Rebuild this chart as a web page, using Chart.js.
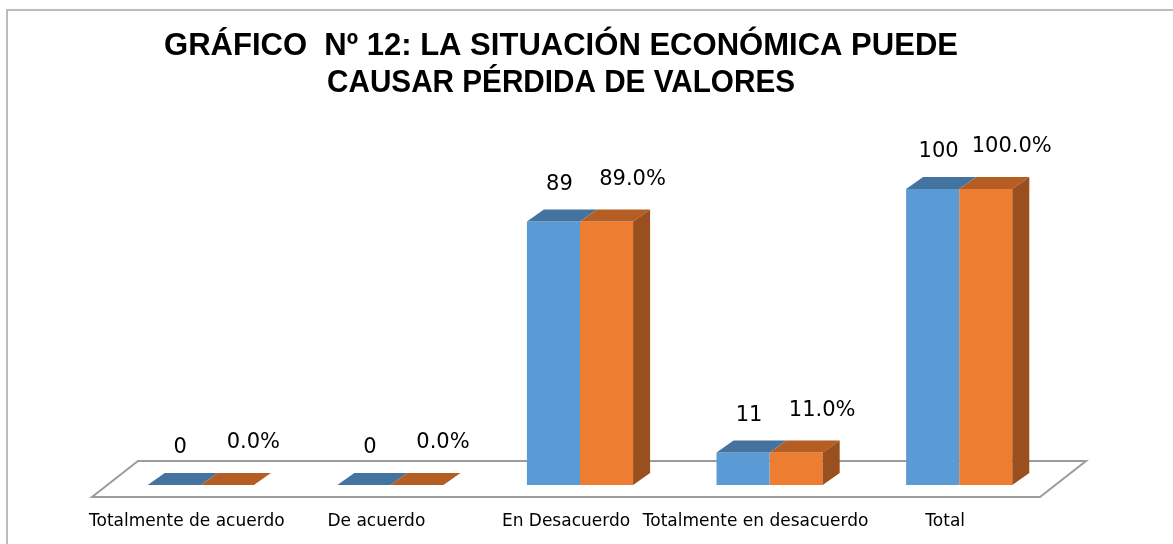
<!DOCTYPE html>
<html>
<head>
<meta charset="utf-8">
<script src="https://cdn.jsdelivr.net/npm/chart.js@4.4.0/dist/chart.umd.min.js"></script>
<style>
  html, body { margin: 0; padding: 0; background: #fff; }
  #wrap { width: 1173px; height: 544px; }
</style>
</head>
<body>
<div id="wrap"><canvas id="barChart" width="1173" height="544"></canvas></div>
<script>
// data
var categories = ["Totalmente de acuerdo", "De acuerdo", "En Desacuerdo", "Totalmente en desacuerdo", "Total"];
var frecuencia = [0, 0, 89, 11, 100];
var porcentaje = [0, 0, 89, 11, 100];
var titleLines = ["GRÁFICO  Nº 12: LA SITUACIÓN ECONÓMICA PUEDE", "CAUSAR PÉRDIDA DE VALORES"];

// 3D look
var depthX = 17, depthY = 12;
var topColors = ["#44739f", "#b55e24"];
var sideColor = "#9a4f1e";

// frame + title
var framePlugin = {
  id: "frame",
  beforeDraw: function(chart) {
    var ctx = chart.ctx;
    ctx.save();
    ctx.fillStyle = "#fff";
    ctx.fillRect(0, 0, chart.width, chart.height);
    ctx.strokeStyle = "#a6a6a6";
    ctx.lineWidth = 1.5;
    ctx.beginPath();
    ctx.moveTo(7, chart.height + 5);
    ctx.lineTo(7, 10);
    ctx.lineTo(chart.width + 5, 10);
    ctx.stroke();

    // title, squeezed to the width of the original
    var widths = [794, 468];
    var baselines = [55, 92];
    ctx.fillStyle = "#000";
    ctx.font = "bold 32px 'Liberation Sans', Arial, sans-serif";
    ctx.textBaseline = "alphabetic";
    ctx.textAlign = "left";
    titleLines.forEach(function(t, i) {
      var w = ctx.measureText(t).width;
      var sx = widths[i] / w;
      ctx.save();
      ctx.translate(561 - widths[i] / 2, baselines[i]);
      ctx.scale(sx, 1);
      ctx.fillText(t, 0, 0);
      ctx.restore();
    });
    ctx.restore();
  }
};

// floor of the 3D plot
var floorPlugin = {
  id: "floor",
  beforeDatasetsDraw: function(chart) {
    var ctx = chart.ctx;
    var a = chart.chartArea;
    var base = chart.scales.y.getPixelForValue(0);
    ctx.save();
    ctx.strokeStyle = "#9c9c9c";
    ctx.lineWidth = 2;
    ctx.beginPath();
    ctx.moveTo(a.left - 14, base + 12);
    ctx.lineTo(a.right - 14, base + 12);
    ctx.lineTo(a.right + 32, base - 24);
    ctx.lineTo(a.left + 32, base - 24);
    ctx.closePath();
    ctx.stroke();
    ctx.restore();
  }
};

// tops, sides and value labels
var bars3dPlugin = {
  id: "bars3d",
  afterDatasetsDraw: function(chart) {
    var ctx = chart.ctx;
    ctx.save();
    chart.data.datasets.forEach(function(ds, di) {
      var meta = chart.getDatasetMeta(di);
      meta.data.forEach(function(bar, i) {
        var p = bar.getProps(["x", "y", "base", "width"], true);
        var l = p.x - p.width / 2, r = p.x + p.width / 2;
        // top face
        ctx.fillStyle = topColors[di];
        ctx.beginPath();
        ctx.moveTo(l, p.y);
        ctx.lineTo(r, p.y);
        ctx.lineTo(r + depthX, p.y - depthY);
        ctx.lineTo(l + depthX, p.y - depthY);
        ctx.closePath();
        ctx.fill();
        // right side only shows on the last series
        if (di == chart.data.datasets.length - 1 && p.base - p.y > 0) {
          ctx.fillStyle = sideColor;
          ctx.beginPath();
          ctx.moveTo(r, p.y);
          ctx.lineTo(r + depthX, p.y - depthY);
          ctx.lineTo(r + depthX, p.base - depthY);
          ctx.lineTo(r, p.base);
          ctx.closePath();
          ctx.fill();
        }
        // value label
        var v = ds.data[i];
        var txt = di == 0 ? String(v) : v.toFixed(1) + "%";
        ctx.fillStyle = "#000";
        ctx.font = "21px 'DejaVu Sans', sans-serif";
        ctx.textAlign = "center";
        ctx.textBaseline = "middle";
        if (di == 0) {
          ctx.fillText(txt, p.x + 6, p.y - 37);
        } else {
          ctx.fillText(txt, p.x + 26, p.y - 42);
        }
      });
    });
    ctx.restore();
  }
};

var bar = document.getElementById("barChart");

var myBarChart = new Chart(bar, {
  type: "bar",
  data: {
    labels: categories,
    datasets: [
      {
        label: "Frecuencia",
        data: frecuencia,
        backgroundColor: "#5b9bd5",
        borderWidth: 0
      },
      {
        label: "Porcentaje",
        data: porcentaje,
        backgroundColor: "#ed7d31",
        borderWidth: 0
      }
    ]
  },
  options: {
    responsive: false,
    animation: false,
    categoryPercentage: 0.56,
    barPercentage: 1.0,
    layout: {
      padding: { left: 106, right: 119, top: 189, bottom: 13 }
    },
    plugins: {
      legend: { display: false },
      tooltip: { enabled: false },
      title: { display: false }
    },
    scales: {
      x: {
        grid: { display: false, drawTicks: false },
        border: { display: false },
        ticks: {
          color: "#000",
          font: { family: "'DejaVu Sans', sans-serif", size: 17 },
          padding: 26,
          labelOffset: -14,
          autoSkip: false,
          maxRotation: 0,
          minRotation: 0
        },
        afterFit: function(scale) {
          scale.height = 46;
        }
      },
      y: {
        display: false,
        min: 0,
        max: 100
      }
    }
  },
  plugins: [framePlugin, floorPlugin, bars3dPlugin]
});
</script>
</body>
</html>
